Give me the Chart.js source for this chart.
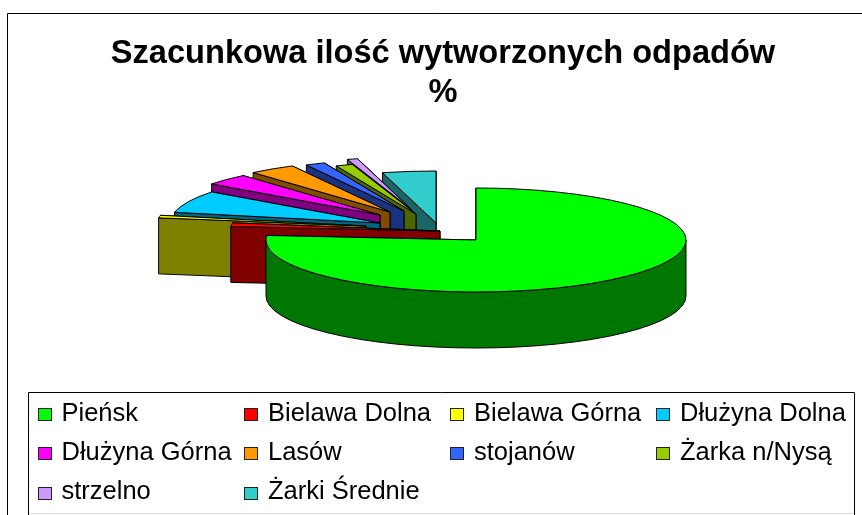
<!DOCTYPE html>
<html>
<head>
<meta charset="utf-8">
<style>html,body{margin:0;padding:0;background:#fff}canvas{display:block}</style>
<script src="https://cdn.jsdelivr.net/npm/chart.js@4"></script>
</head>
<body>
<canvas id="c" width="862" height="515"></canvas>
<script>
const titleLines = ['Szacunkowa ilość wytworzonych odpadów', '%'];
const categories = ['Pieńsk','Bielawa Dolna','Bielawa Górna','Dłużyna Dolna','Dłużyna Górna','Lasów','stojanów','Żarka n/Nysą','strzelno','Żarki Średnie'];
const shares = [76.4,1.1,0.8,6.9,3.5,3.6,1.5,1.3,0.8,4.1];
const sliceColors = ['#00FF00','#FF0000','#FFFF00','#00CCFF','#FF00FF','#FF9900','#3366FF','#99CC00','#CC99FF','#33CCCC'];
const wallColors = ['#007700','#800000','#808000','#006680','#800080','#804D00','#1A3380','#4D6600','#664D80','#1A6666'];
// how far each slice is pulled out of the pie, in px (right, down)
const pullX = [0,-36,-110,-96,-96,-86,-72,-60,-65,-40];
const pullY = [0,-9,-14,-17,-25,-28,-29,-26,-31,-17];

const PIE = {cx:476, cy:240, rx:210, ry:52, depth:56};
const LEG = {left:28, top:392, right:854, bottom:513, cols:[38,244.5,450.5,656.5], rows:[414,453,492], swatchY:[408,447,487], textGap:23.5, boxW:14, boxH:13};
const FONT = '"Liberation Sans", Arial, sans-serif';

const pie3d = {
  id:'pie3d',
  beforeDatasetsDraw(chart){
    const ctx = chart.ctx, arcs = chart.getDatasetMeta(0).data;
    for(let i=arcs.length-1;i>=0;i--){
      const el = arcs[i];
      const ax = PIE.cx+pullX[i], ay = PIE.cy+pullY[i];
      const a0 = el.startAngle, a1 = el.endAngle;
      const pt = (a,dz)=>[ax+PIE.rx*Math.cos(a), ay+PIE.ry*Math.sin(a)+dz];
      const dark = wallColors[i];
      ctx.save();
      ctx.lineWidth = 1; ctx.strokeStyle = '#000'; ctx.lineJoin = 'round';
      // straight cut walls: far one first, the one facing the viewer last
      [a1,a0].forEach(a=>{
        const p = pt(a,0), q = pt(a,PIE.depth);
        ctx.beginPath();
        ctx.moveTo(ax,ay); ctx.lineTo(p[0],p[1]); ctx.lineTo(q[0],q[1]); ctx.lineTo(ax,ay+PIE.depth); ctx.closePath();
        ctx.fillStyle = dark; ctx.fill(); ctx.stroke();
      });
      // curved outer wall, front half only
      const s = Math.max(a0,0), e = Math.min(a1,Math.PI);
      if(e>s){
        ctx.beginPath();
        ctx.ellipse(ax,ay,PIE.rx,PIE.ry,0,s,e,false);
        ctx.ellipse(ax,ay+PIE.depth,PIE.rx,PIE.ry,0,e,s,true);
        ctx.closePath();
        ctx.fillStyle = dark; ctx.fill(); ctx.stroke();
      }
      ctx.restore();
      // top face: the library's own arc, flattened
      const f = PIE.rx/el.outerRadius;
      ctx.save();
      ctx.translate(ax,ay);
      ctx.scale(f,f*PIE.ry/PIE.rx);
      ctx.translate(-el.x,-el.y);
      el.draw(ctx);
      ctx.restore();
      ctx.save();
      ctx.lineWidth = 1; ctx.strokeStyle = '#000';
      ctx.beginPath();
      ctx.moveTo(ax,ay);
      ctx.ellipse(ax,ay,PIE.rx,PIE.ry,0,a0,a1,false);
      ctx.closePath();
      ctx.stroke();
      ctx.restore();
    }
    return false;
  },
  beforeDraw(chart){
    const ctx = chart.ctx;
    ctx.save();
    ctx.fillStyle = '#fff'; ctx.fillRect(0,0,862,515);
    ctx.strokeStyle = '#000'; ctx.lineWidth = 1;
    ctx.beginPath();
    ctx.moveTo(7.5,515); ctx.lineTo(7.5,13.5); ctx.lineTo(862,13.5);
    ctx.stroke();
    ctx.restore();
  },
  afterDraw(chart){
    const ctx = chart.ctx;
    ctx.save();
    ctx.lineWidth = 1;
    ctx.strokeStyle = '#000';
    ctx.beginPath();
    ctx.moveTo(LEG.left+.5,515); ctx.lineTo(LEG.left+.5,LEG.top+.5); ctx.lineTo(LEG.right+.5,LEG.top+.5); ctx.lineTo(LEG.right+.5,515);
    ctx.stroke();
    ctx.strokeStyle = '#ddd';
    ctx.beginPath();
    ctx.moveTo(LEG.left+1,LEG.bottom+.5); ctx.lineTo(LEG.right,LEG.bottom+.5);
    ctx.stroke();
    ctx.strokeStyle = '#222';
    ctx.font = '25.5px '+FONT;
    ctx.textBaseline = 'middle';
    chart.data.labels.forEach((t,i)=>{
      const r = Math.floor(i/4), x = LEG.cols[i%4], y = LEG.rows[r], sy = LEG.swatchY[r];
      ctx.fillStyle = sliceColors[i];
      ctx.fillRect(Math.floor(x),sy,LEG.boxW,LEG.boxH);
      ctx.strokeRect(Math.floor(x)+.5,sy+.5,LEG.boxW-1,LEG.boxH-1);
      ctx.fillStyle = '#000';
      ctx.fillText(t,x+LEG.textGap,y);
    });
    ctx.restore();
  }
};

new Chart(document.getElementById('c'),{
  type:'pie',
  data:{labels:categories,datasets:[{data:shares,backgroundColor:sliceColors,borderWidth:0}]},
  options:{
    responsive:false,animation:false,
    layout:{padding:{left:24}},
    plugins:{
      legend:{display:false},tooltip:{enabled:false},
      title:{display:true,text:titleLines,color:'#000',
        font:{family:FONT,size:32.6,weight:'bold',lineHeight:1.2},padding:{top:34,bottom:0}}
    }
  },
  plugins:[pie3d]
});
</script>
</body>
</html>
